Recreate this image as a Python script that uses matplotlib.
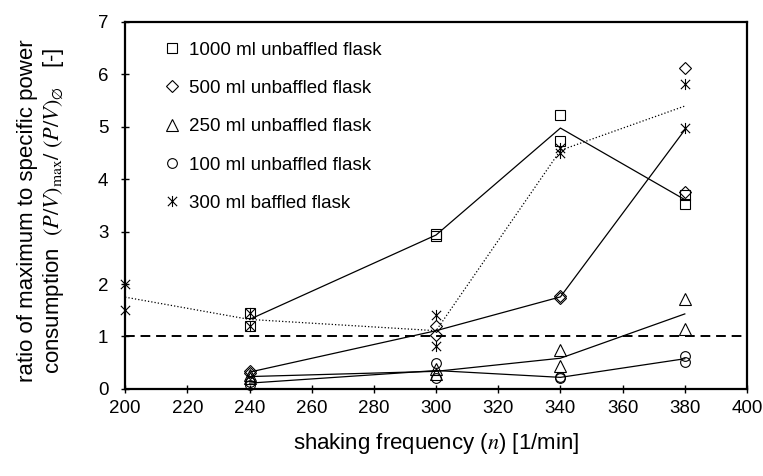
import numpy as np
import matplotlib
matplotlib.use("Agg")
import matplotlib.pyplot as plt
from matplotlib.lines import Line2D
from matplotlib.path import Path

### DATA ###
# two replicate measurements per shaking frequency, the line joins their mean
freq_1000 = [240, 300, 340, 380]
rep1_1000 = [1.45, 2.96, 5.22, 3.70]
rep2_1000 = [1.20, 2.91, 4.73, 3.52]

freq_500 = [240, 300, 340, 380]
rep1_500 = [0.34, 1.20, 1.78, 6.12]
rep2_500 = [0.30, 1.02, 1.73, 3.76]

freq_250 = [240, 300, 340, 380]
rep1_250 = [0.27, 0.38, 0.74, 1.72]
rep2_250 = [0.20, 0.29, 0.43, 1.14]

freq_100 = [240, 300, 340, 380]
rep1_100 = [0.14, 0.50, 0.23, 0.63]
rep2_100 = [0.08, 0.20, 0.21, 0.52]

freq_baffled = [200, 240, 300, 340, 380]
rep1_baffled = [2.00, 1.45, 1.41, 4.60, 5.82]
rep2_baffled = [1.50, 1.20, 0.81, 4.50, 4.97]

reference_level = 1.0

labels = ["1000 ml unbaffled flask", "500 ml unbaffled flask",
          "250 ml unbaffled flask", "100 ml unbaffled flask",
          "300 ml baffled flask"]

x_ticks = np.arange(200, 401, 20)
y_ticks = np.arange(0, 8, 1)

### PLOT ###
plt.rcParams["font.family"] = ["Liberation Sans", "DejaVu Sans"]
plt.rcParams["mathtext.fontset"] = "stix"

# Excel style star: an X with a vertical bar through it
star = Path([(-1, -1), (1, 1), (-1, 1), (1, -1), (0, -1.2), (0, 1.2)],
            [Path.MOVETO, Path.LINETO] * 3)

fig = plt.figure(figsize=(7.63, 4.76), dpi=100, facecolor="w")
ax = fig.add_axes([0.164, 0.183, 0.815, 0.771])

series = [
    (freq_1000, rep1_1000, rep2_1000, "s", 7, "-"),
    (freq_500, rep1_500, rep2_500, "D", 6, "-"),
    (freq_250, rep1_250, rep2_250, "^", 8, "-"),
    (freq_100, rep1_100, rep2_100, "o", 7, "-"),
    (freq_baffled, rep1_baffled, rep2_baffled, star, 8, ":"),
]

handles = []
for (f, r1, r2, mk, ms, ls), lab in zip(series, labels):
    mean = (np.array(r1) + np.array(r2)) / 2
    ax.plot(f, mean, color="black", linestyle=ls, linewidth=0.9, zorder=2)
    for r in (r1, r2):
        ax.plot(f, r, linestyle="none", marker=mk, markersize=ms,
                markerfacecolor="none", markeredgecolor="black",
                markeredgewidth=0.8, zorder=3, clip_on=False)
    handles.append(Line2D([], [], linestyle="none", marker=mk, markersize=ms,
                          markerfacecolor="none", markeredgecolor="black",
                          markeredgewidth=0.8, label=lab))

ax.axhline(reference_level, color="black", linestyle=(0, (5, 3)), linewidth=1.4, zorder=1)

ax.set_xlim(200, 400)
ax.set_ylim(0, 7)
ax.set_xticks(x_ticks)
ax.set_yticks(y_ticks)
ax.tick_params(direction="inout", length=6, width=1, labelsize=13.5)
ax.tick_params(axis="x", pad=5)
ax.tick_params(axis="y", pad=9)
for sp in ax.spines.values():
    sp.set_linewidth(1.6)

ax.set_xlabel("shaking frequency ($n$) [1/min]", fontsize=16)
ax.xaxis.set_label_coords(0.5, -0.115)
ax.set_ylabel("ratio of maximum to specific power\n"
              "consumption  $(P/V)_{\\mathrm{max}}/\\ (P/V)_{\\varnothing}$   [-]",
              fontsize=16, linespacing=1.15)
ax.yaxis.set_label_coords(-0.095, 0.485)

ax.legend(handles=handles, loc="upper left", bbox_to_anchor=(0.048, 0.967),
          frameon=False, fontsize=13.5, handlelength=1.0, handletextpad=0.4,
          labelspacing=1.13, borderaxespad=0)

plt.savefig("out.png", dpi=100, facecolor="w")
